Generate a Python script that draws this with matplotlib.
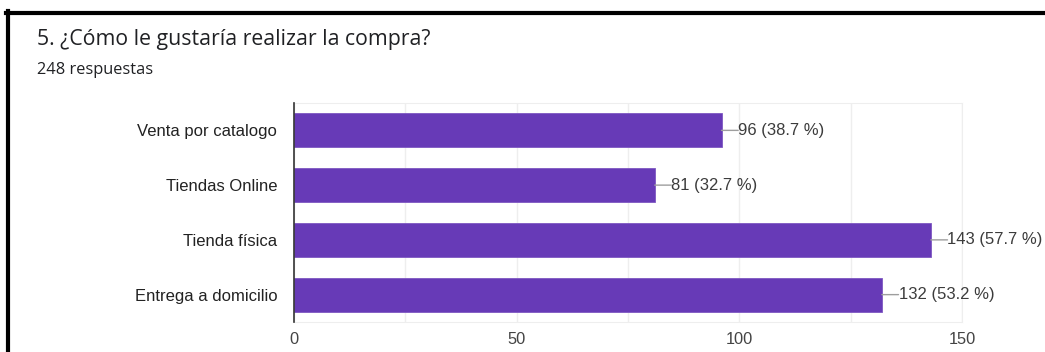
import matplotlib.pyplot as plt
from matplotlib.lines import Line2D

TITLE = "5. ¿Cómo le gustaría realizar la compra?"
SUBTITLE = "248 respuestas"

categories = ["Venta por catalogo", "Tiendas Online", "Tienda física", "Entrega a domicilio"]
counts = [96, 81, 143, 132]
percents = [38.7, 32.7, 57.7, 53.2]
x_ticks = [0, 50, 100, 150]

BAR_COLOR = "#673AB7"
TEXT_COLOR = "#3c3c3c"

plt.rcParams["font.family"] = ["Liberation Sans", "DejaVu Sans"]

fig = plt.figure(figsize=(10.45, 3.52), dpi=100)
ax = fig.add_axes([294 / 1045, 30 / 352, 668 / 1045, 219 / 352])

y_pos = list(range(len(categories)))
ax.barh(y_pos, counts, height=0.62, color=BAR_COLOR, edgecolor="#7e57c2", linewidth=0.6, zorder=3)

for y, c, p in zip(y_pos, counts, percents):
    ax.annotate("", xy=(c, y), xytext=(12, 0), textcoords="offset points",
                arrowprops=dict(arrowstyle="-", color="#9e9e9e", lw=1, shrinkA=0, shrinkB=0))
    ax.annotate(f"{c} ({p} %)", xy=(c, y), xytext=(12, 0), textcoords="offset points",
                va="center", ha="left", fontsize=12, color=TEXT_COLOR)

ax.set_xlim(0, 150)
ax.set_ylim(len(categories) - 0.5, -0.5)
ax.set_yticks(y_pos)
ax.set_yticklabels(categories, fontsize=12, color="#222222")
ax.set_xticks(x_ticks)
ax.set_xticks([25, 75, 125], minor=True)
ax.tick_params(axis="x", which="both", length=0, pad=7, labelsize=11.8, labelcolor="#444444")
ax.tick_params(axis="y", length=0, pad=12)
ax.grid(axis="x", which="both", color="#eeeeee", linewidth=1, zorder=0)

for side in ["top", "right", "bottom"]:
    ax.spines[side].set_color("#eeeeee")
ax.spines["left"].set_color("#333333")
ax.spines["left"].set_linewidth(1.2)
ax.spines["left"].set_zorder(4)

fig.text(37 / 1045, 1 - 40 / 352, TITLE, fontsize=15.3, family=["Open Sans", "DejaVu Sans"],
         color="#202124", va="center", ha="left")
fig.text(37 / 1045, 1 - 70 / 352, SUBTITLE, fontsize=11.8, family=["Open Sans", "DejaVu Sans"],
         color="#202124", va="center", ha="left")

# black frame on top and left edges
fig.add_artist(Line2D([6 / 1045, 1.0], [1 - 12.5 / 352, 1 - 12.5 / 352], color="black",
                      linewidth=3, transform=fig.transFigure))
fig.add_artist(Line2D([8 / 1045, 8 / 1045], [0, 1 - 11 / 352], color="black",
                      linewidth=3, transform=fig.transFigure))

fig.savefig("out.png", dpi=100)
